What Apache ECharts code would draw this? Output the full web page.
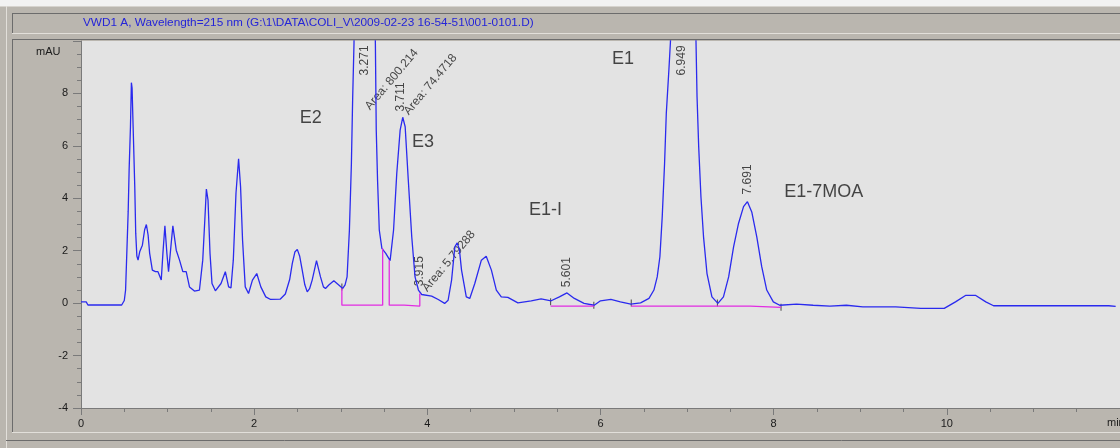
<!DOCTYPE html>
<html>
<head>
<meta charset="utf-8">
<style>
  html, body { margin: 0; padding: 0; background: #bab6af; }
  #chart { width: 1120px; height: 448px; }
</style>
<script src="https://cdn.jsdelivr.net/npm/echarts@6/dist/echarts.min.js"></script>
</head>
<body>
<div id="chart"></div>
<script>
// chromatogram trace: [time (min), signal (mAU)]
const trace = [
  [0.00, 0.05], [0.06, 0.05], [0.08, -0.07], [0.47, -0.07], [0.50, 0.10], [0.515, 0.5],
  [0.525, 1.5], [0.545, 3.5], [0.556, 5.1], [0.571, 6.7], [0.582, 8.41], [0.59, 8.2],
  [0.602, 6.73], [0.621, 4.44], [0.632, 2.67], [0.645, 1.8], [0.659, 1.64], [0.678, 1.96],
  [0.709, 2.21], [0.735, 2.8], [0.755, 3.0], [0.775, 2.6], [0.793, 1.9], [0.824, 1.26],
  [0.86, 1.2], [0.889, 1.2], [0.927, 0.88], [0.946, 1.9], [0.969, 2.95], [0.992, 1.9],
  [1.011, 1.2], [1.031, 1.9], [1.061, 2.95], [1.10, 2.02], [1.138, 1.64], [1.176, 1.2],
  [1.215, 1.2], [1.253, 0.62], [1.31, 0.46], [1.368, 0.5], [1.406, 1.64], [1.43, 3.17],
  [1.448, 4.35], [1.467, 3.93], [1.49, 1.9], [1.513, 0.75], [1.552, 0.47], [1.617, 0.75],
  [1.667, 1.2], [1.705, 0.62], [1.732, 0.58], [1.759, 1.64], [1.79, 4.19], [1.82, 5.51],
  [1.843, 4.44], [1.866, 2.4], [1.897, 0.62], [1.935, 0.37], [1.98, 0.88], [2.03, 1.13],
  [2.077, 0.62], [2.134, 0.24], [2.19, 0.14], [2.30, 0.15], [2.36, 0.35], [2.41, 0.9],
  [2.44, 1.51], [2.47, 1.95], [2.498, 2.05], [2.525, 1.8], [2.555, 1.26], [2.585, 0.7],
  [2.613, 0.43], [2.64, 0.55], [2.67, 0.88], [2.72, 1.62], [2.766, 1.0], [2.80, 0.62],
  [2.824, 0.56], [2.862, 0.69], [2.92, 0.85], [2.977, 0.69], [3.023, 0.56], [3.05, 0.7],
  [3.073, 1.0], [3.10, 2.79], [3.123, 5.33], [3.138, 7.87], [3.153, 9.9], [3.175, 16],
  [3.22, 28], [3.271, 32], [3.32, 27], [3.37, 15], [3.40, 9.9], [3.41, 6.6],
  [3.425, 4.7], [3.445, 2.79], [3.475, 2.09], [3.52, 1.9], [3.57, 1.62], [3.61, 2.79],
  [3.647, 4.95], [3.686, 6.6], [3.716, 7.09], [3.744, 6.73], [3.78, 4.7], [3.82, 2.53],
  [3.858, 1.0], [3.897, 0.5], [3.935, 0.33], [4.05, 0.27], [4.126, 0.14], [4.20, -0.01],
  [4.24, 0.11], [4.28, 0.88], [4.318, 2.15], [4.345, 2.3], [4.37, 2.05], [4.395, 1.26],
  [4.45, 0.24], [4.49, 0.18], [4.548, 0.75], [4.624, 1.64], [4.68, 1.79], [4.74, 1.26],
  [4.797, 0.5], [4.854, 0.24], [4.93, 0.22], [5.046, 0.01], [5.20, 0.09], [5.314, 0.16],
  [5.43, 0.09], [5.525, 0.24], [5.613, 0.39], [5.698, 0.18], [5.81, -0.01], [5.927, -0.08],
  [6.00, 0.09], [6.12, 0.14], [6.23, 0.05], [6.35, -0.04], [6.463, 0.01], [6.56, 0.18],
  [6.617, 0.5], [6.655, 1.0], [6.686, 1.77], [6.713, 3.3], [6.74, 5.33], [6.76, 7.24],
  [6.79, 8.9], [6.808, 9.98], [6.85, 20], [6.949, 32], [7.05, 20], [7.103, 9.98],
  [7.115, 7.87], [7.134, 5.97], [7.16, 4.06], [7.19, 2.53], [7.23, 1.13], [7.287, 0.24],
  [7.356, -0.01], [7.42, 0.24], [7.48, 1.0], [7.537, 2.15], [7.594, 3.04], [7.652, 3.68],
  [7.697, 3.87], [7.747, 3.48], [7.805, 2.53], [7.862, 1.39], [7.92, 0.5], [7.996, 0.05],
  [8.07, -0.08], [8.264, -0.04], [8.456, -0.08], [8.65, -0.11], [8.84, -0.08], [9.03, -0.14],
  [9.41, -0.14], [9.70, -0.2], [9.97, -0.2], [10.10, 0.05], [10.22, 0.3], [10.33, 0.3],
  [10.45, 0.05], [10.54, -0.1], [11.04, -0.1], [11.06, -0.12], [11.21, -0.1], [11.87, -0.1],
  [11.95, -0.12]
];

// integration baselines (drop lines), '-' breaks the line
const baselines = [
  [3.013, 0.56], [3.013, -0.076], [3.484, -0.076], [3.484, 2.08], [3.5, '-'],
  [3.56, 1.64], [3.56, -0.076], [3.733, -0.076], [3.733, -0.11], [3.913, -0.11], [3.913, 0.37], [4.0, '-'],
  [5.424, -0.114], [5.923, -0.114], [6.0, '-'],
  [6.355, -0.114], [7.73, -0.114], [7.73, -0.16], [8.085, -0.16]
];

// peak start / end tick marks
const peakTicks = [[3.013, 0.62], [5.424, 0.05], [5.923, -0.08], [6.355, 0.01], [7.35, 0.01], [8.085, -0.16]];

const rtLabels = ["3.271", "3.711", "3.915", "5.601", "6.949", "7.691"];
const rtAnchors = [[3.273, 9.26], [3.69, 7.87], [3.916, 1.22], [5.605, 1.18], [6.937, 9.26], [7.695, 4.72]];

const areaLabels = ["Area: 800.214", "Area: 74.4718", "Area: 5.79288"];
const areaAnchors = [[3.589, 8.53], [4.037, 8.34], [4.249, 1.6]];

const peakNames = ["E2", "E3", "E1-I", "E1", "E1-7MOA"];
const peakNameAnchors = [[2.653, 7.05], [3.951, 6.13], [5.364, 3.54], [6.259, 9.30], [8.579, 4.23]];

const title = "VWD1 A, Wavelength=215 nm (G:\\1\\DATA\\COLI_V\\2009-02-23 16-54-51\\001-0101.D)";

(function(){
  const chart = echarts.init(document.getElementById("chart"));
  const font = "'Liberation Sans', Arial, sans-serif";

  const textSeries = (names, anchors, size, rotate, color) => ({
    type: "scatter",
    symbolSize: 0,
    silent: true,
    data: anchors.map((p, i) => ({ value: p, name: names[i] })),
    label: {
      show: true, position: "inside", rotate: rotate,
      formatter: p => p.name,
      color: color, fontSize: size, fontFamily: font
    }
  });

  const line = (x1, y1, x2, y2, c) => ({
    type: "line", silent: true,
    shape: { x1: x1, y1: y1, x2: x2, y2: y2 },
    style: { stroke: c, lineWidth: 1 }
  });

  const option = {
    backgroundColor: "#bab6af",
    animation: false,
    grid: {
      left: 81, top: 41, right: -6, bottom: 40,
      show: true, backgroundColor: "#e3e3e3", borderWidth: 0
    },
    xAxis: {
      type: "value", min: 0, max: 12, interval: 2,
      axisLine: { show: true, onZero: false, lineStyle: { color: "#7a7a7a" } },
      axisTick: { show: true, length: 7, lineStyle: { color: "#7a7a7a" } },
      minorTick: { show: true, splitNumber: 4, length: 4, lineStyle: { color: "#7a7a7a" } },
      splitLine: { show: false },
      axisLabel: { color: "#1a1a1a", fontSize: 11, fontFamily: font, margin: 10, showMaxLabel: false }
    },
    yAxis: {
      type: "value", min: -4, max: 10, interval: 2,
      axisLine: { show: true, lineStyle: { color: "#7a7a7a" } },
      axisTick: { show: true, length: 8, lineStyle: { color: "#7a7a7a" } },
      minorTick: { show: true, splitNumber: 4, length: 4, lineStyle: { color: "#7a7a7a" } },
      splitLine: { show: false },
      axisLabel: { color: "#1a1a1a", fontSize: 11, fontFamily: font, margin: 13, showMaxLabel: false }
    },
    graphic: [
      { type: "rect", silent: true, shape: { x: 0, y: 0, width: 1120, height: 6 }, style: { fill: "#f2f2f2" } },
      line(0, 6.5, 1120, 6.5, "#d6d3ce"),
      line(12, 13.5, 1120, 13.5, "#6c6c6c"),
      line(12.5, 13.5, 12.5, 33.5, "#6c6c6c"),
      line(12, 33.5, 1120, 33.5, "#e2dfda"),
      line(12, 39.5, 1120, 39.5, "#6c6c6c"),
      line(12.5, 39.5, 12.5, 433, "#6c6c6c"),
      line(6.5, 6, 6.5, 448, "#e2dfda"),
      line(12, 432.5, 1120, 432.5, "#e2dfda"),
      line(6, 440.5, 1120, 440.5, "#6c6c6c"),
      {
        type: "text", silent: true, left: 83, top: 17,
        style: { text: title, fill: "#2424d8", fontSize: 11.8, fontFamily: font }
      },
      {
        type: "text", silent: true, left: 36, top: 46,
        style: { text: "mAU", fill: "#1a1a1a", fontSize: 11, fontFamily: font }
      },
      {
        type: "text", silent: true, left: 1107, top: 417,
        style: { text: "min", fill: "#1a1a1a", fontSize: 11, fontFamily: font }
      }
    ],
    series: [
      {
        type: "line", data: trace, symbol: "none", clip: true, silent: true,
        lineStyle: { color: "#2a2aee", width: 1.3 }
      },
      {
        type: "line", data: baselines, symbol: "none", clip: true, silent: true,
        connectNulls: false,
        lineStyle: { color: "#e22ce2", width: 1.3 }
      },
      {
        type: "scatter", data: peakTicks, symbol: "rect", symbolSize: [1, 7], silent: true,
        itemStyle: { color: "#202020" }
      },
      textSeries(rtLabels, rtAnchors, 12, 90, "#1a1a1a"),
      textSeries(areaLabels, areaAnchors, 12, 50, "#1a1a1a"),
      textSeries(peakNames, peakNameAnchors, 18, 0, "#1a1a1a")
    ]
  };

  chart.setOption(option);
  window.addEventListener("resize", () => chart.resize());
})();
</script>
</body>
</html>
